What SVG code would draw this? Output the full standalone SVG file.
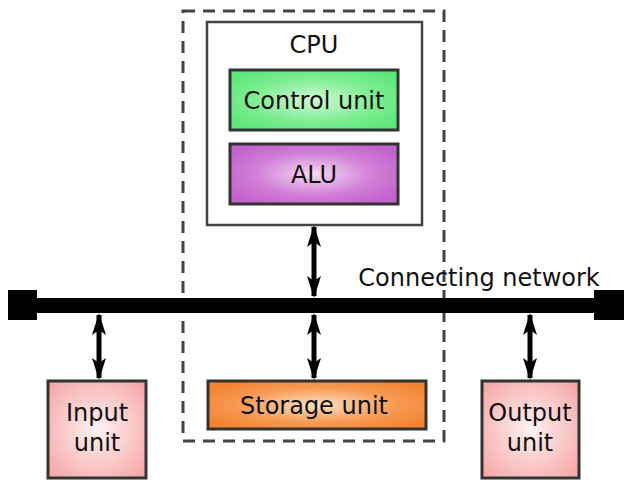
<svg xmlns="http://www.w3.org/2000/svg" width="637" height="491" viewBox="0 0 637 491">
<defs>
<radialGradient id="gGreen" cx="50%" cy="50%" r="60%"><stop offset="0" stop-color="#d0fad6"/><stop offset="0.6" stop-color="#7eed92"/><stop offset="1" stop-color="#5ee87a"/></radialGradient>
<radialGradient id="gPurple" cx="50%" cy="50%" r="60%"><stop offset="0" stop-color="#f4d8f4"/><stop offset="0.6" stop-color="#d07ed6"/><stop offset="1" stop-color="#c262cc"/></radialGradient>
<radialGradient id="gOrange" cx="50%" cy="50%" r="60%"><stop offset="0" stop-color="#fde0c4"/><stop offset="0.6" stop-color="#f69a54"/><stop offset="1" stop-color="#f5832f"/></radialGradient>
<radialGradient id="gPink" cx="50%" cy="50%" r="65%"><stop offset="0" stop-color="#fff2f2"/><stop offset="1" stop-color="#f6a8a8"/></radialGradient>
<marker id="ah" viewBox="0 0 22 14" refX="20" refY="7" markerWidth="22" markerHeight="14" markerUnits="userSpaceOnUse" orient="auto-start-reverse"><path d="M0,0 L22,7 L0,14 L5,7 Z" fill="#000"/></marker>
</defs>
<style>
text{font-family:"DejaVu Sans",sans-serif;fill:#111;text-anchor:middle;font-size:24px}
.box{stroke:#333;stroke-width:3}
.conn{stroke:#000;stroke-width:5;fill:none;marker-start:url(#ah);marker-end:url(#ah)}
</style>
<rect width="637" height="491" fill="#fff"/>
<g id="dashed-boundary"><rect x="183" y="11" width="261" height="430" fill="none" stroke="#444" stroke-width="3" stroke-dasharray="12,8"/></g>
<g id="cpu"><rect x="207" y="22" width="215" height="203" fill="#fff" stroke="#444" stroke-width="2.5"/><text x="314" y="53">CPU</text></g>
<g id="control-unit"><rect class="box" x="230" y="70" width="168" height="60" fill="url(#gGreen)"/><text x="314" y="109">Control unit</text></g>
<g id="alu"><rect class="box" x="230" y="144" width="168" height="60" fill="url(#gPurple)"/><text x="314" y="183">ALU</text></g>
<g id="network"><rect x="8" y="290" width="29" height="30" fill="#000"/><rect x="594" y="290" width="30" height="30" fill="#000"/><rect x="30" y="298" width="570" height="15" fill="#000"/><text x="479" y="286">Connecting network</text></g>
<g id="storage-unit"><rect class="box" x="208" y="381" width="218" height="48" fill="url(#gOrange)"/><text x="314" y="414">Storage unit</text></g>
<g id="input-unit"><rect class="box" x="48" y="381" width="98" height="97" fill="url(#gPink)"/><text x="97" y="421">Input</text><text x="97" y="451">unit</text></g>
<g id="output-unit"><rect class="box" x="482" y="381" width="97" height="97" fill="url(#gPink)"/><text x="530" y="421">Output</text><text x="530" y="451">unit</text></g>
<g id="connectors">
<line class="conn" x1="314" y1="227" x2="314" y2="296"/>
<line class="conn" x1="99" y1="315" x2="99" y2="378"/>
<line class="conn" x1="314" y1="315" x2="314" y2="378"/>
<line class="conn" x1="530" y1="315" x2="530" y2="378"/>
</g>
</svg>
